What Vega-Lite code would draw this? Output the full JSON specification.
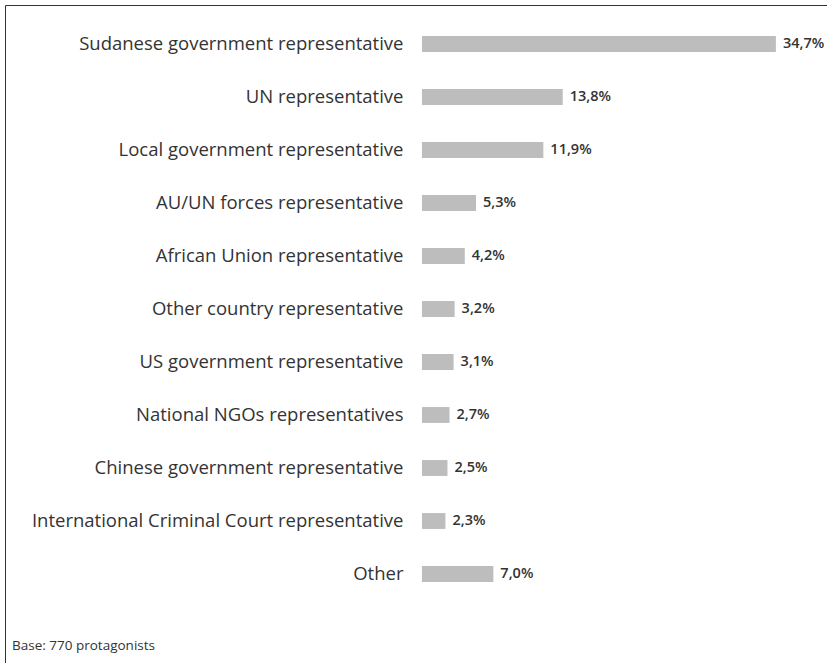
{
  "$schema": "https://vega.github.io/schema/vega-lite/v6.json",
  "autosize": "none",
  "padding": {"left": 5, "top": 5, "right": -10, "bottom": -10},
  "width": 832,
  "height": 668,
  "background": "white",
  "config": {
    "view": {"stroke": "#333333", "strokeWidth": 1},
    "font": "Open Sans",
    "locale": {"number": {"decimal": ",", "thousands": ".", "grouping": [3], "currency": ["", " €"]}}
  },
  "title": {
    "text": "Base: 770 protagonists",
    "orient": "bottom",
    "anchor": "start",
    "offset": -34,
    "dx": 7,
    "fontSize": 13.5,
    "fontWeight": "normal",
    "color": "#333333",
    "font": "Open Sans"
  },
  "data": {
    "values": [
      {"protagonist": "Sudanese government representative", "share": 0.347},
      {"protagonist": "UN representative", "share": 0.138},
      {"protagonist": "Local government representative", "share": 0.119},
      {"protagonist": "AU/UN forces representative", "share": 0.053},
      {"protagonist": "African Union representative", "share": 0.042},
      {"protagonist": "Other country representative", "share": 0.032},
      {"protagonist": "US government representative", "share": 0.031},
      {"protagonist": "National NGOs representatives", "share": 0.027},
      {"protagonist": "Chinese government representative", "share": 0.025},
      {"protagonist": "International Criminal Court representative", "share": 0.023},
      {"protagonist": "Other", "share": 0.070}
    ]
  },
  "encoding": {
    "y": {
      "field": "protagonist",
      "type": "nominal",
      "sort": null,
      "scale": {"range": [12.5, 595.5], "paddingInner": 0.7, "paddingOuter": 0.35},
      "axis": {
        "title": null,
        "orient": "left",
        "offset": -417,
        "domain": false,
        "ticks": false,
        "grid": false,
        "labelPadding": 19,
        "labelFontSize": 18.5,
        "labelFont": "Open Sans",
        "labelColor": "#333333",
        "labelLimit": 600
      }
    },
    "x": {
      "field": "share",
      "type": "quantitative",
      "scale": {"domain": [-0.4088, 0.4069], "nice": false, "zero": false},
      "axis": null
    }
  },
  "layer": [
    {
      "mark": {"type": "bar", "color": "#bdbdbe"},
      "encoding": {"x2": {"datum": 0}}
    },
    {
      "mark": {"type": "text", "align": "left", "baseline": "middle", "dx": 7, "fontSize": 14.5, "fontWeight": 600, "color": "#333333", "font": "Open Sans"},
      "encoding": {"text": {"field": "share", "type": "quantitative", "format": ".1%"}}
    }
  ]
}
